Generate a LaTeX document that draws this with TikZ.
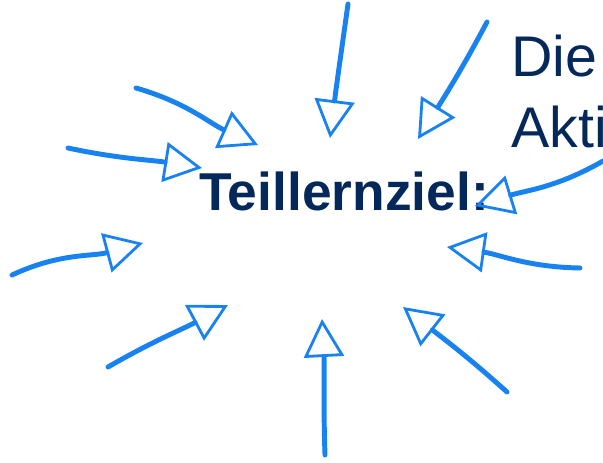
\documentclass[tikz,border=0pt]{standalone}
\usepackage{fontspec}
\setmainfont{Liberation Sans}
\usetikzlibrary{arrows.meta}
\definecolor{penblue}{RGB}{24,130,240}
\definecolor{inknavy}{RGB}{4,40,90}

\begin{document}
\begin{tikzpicture}[x=0.75pt, y=-0.75pt,
  goal/.style={text=inknavy, font=\fontsize{40}{48}\selectfont\bfseries, inner sep=0pt, anchor=base west},
  lead/.style={text=inknavy, font=\fontsize{43}{52}\selectfont, inner sep=0pt, anchor=base west},
  pen/.style={penblue, line width=3.7pt, line cap=round,
    -{Triangle[open, length=28.5pt, width=30pt, line width=2.1pt]}}]
\useasboundingbox (0,0) rectangle (603,462);
\node[goal] (goal) at (199,210) {Teillernziel:};
\node[lead] (die) at (511,76) {Die};
\node[lead] (akti) at (511,147) {Akti};
\foreach \n/\tx/\ty/\px/\py in {1/348/4/330/138, 2/487/22/418/139, 3/603/161/475/206,
    4/580/268/447/247, 5/507/392/403/307, 6/325/455/322/319, 7/108/367/228/305,
    8/12/275/143/243, 9/68/148/202/168, 10/136/88/258/145}{
  \coordinate (tail\n) at (\tx,\ty);
  \coordinate (tip\n) at (\px,\py);
}
\foreach \n/\o/\i in {1/-98/83, 2/-118/58, 3/-150/17, 4/179/-8, 5/138/-38,
    6/92/-87, 7/30/-152, 8/25/-165, 9/-12/171, 10/-16/156}
  \draw[pen] (tail\n) to[out=\o, in=\i] (tip\n);
\end{tikzpicture}
\end{document}
